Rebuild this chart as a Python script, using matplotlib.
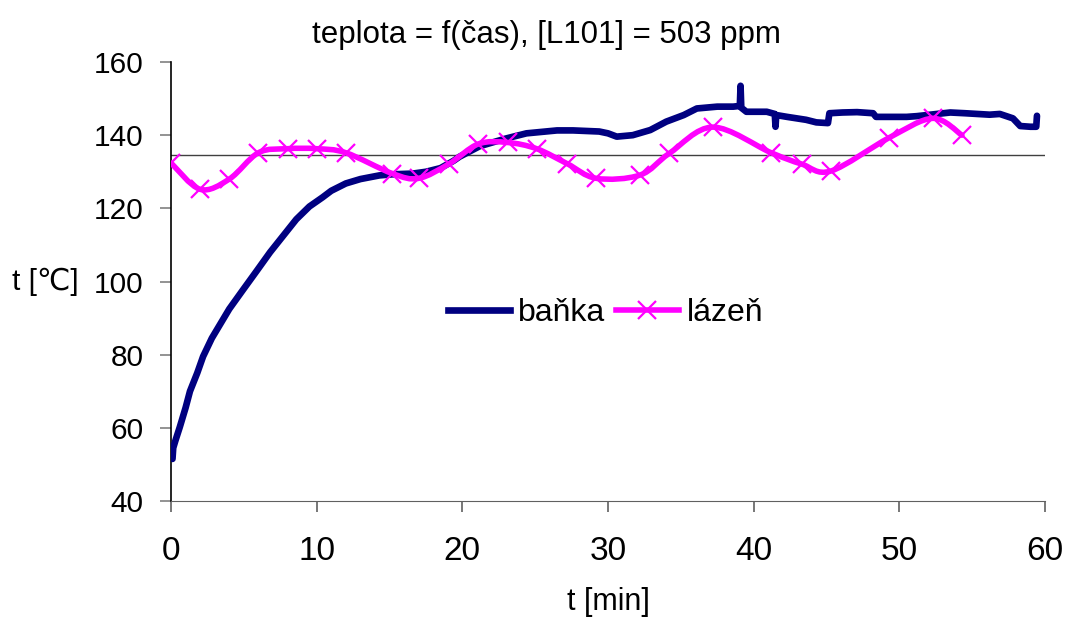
import matplotlib
matplotlib.use('Agg')
import matplotlib.pyplot as plt
from matplotlib.path import Path
from matplotlib.patches import PathPatch
from matplotlib.lines import Line2D

# banka (flask) temperature
banka_t = [0.1, 0.15, 0.3, 0.6, 1.0, 1.3, 1.8, 2.2, 2.8, 3.4, 4.0, 4.9, 5.9, 6.8, 7.7,
           8.6, 9.5, 10.4, 11.0, 12.0, 13.0, 14.3, 15.2, 16.6, 17.5, 18.5, 19.4, 19.8,
           21.2, 23.0, 24.4, 26.5, 27.6, 29.4, 30.0, 30.6, 31.7, 32.9, 34.0, 35.2, 36.1,
           37.5, 38.6, 39.05, 39.1, 39.15, 39.5, 40.9, 41.45, 41.5, 41.55, 42.3, 43.6,
           44.3, 45.1, 45.2, 46.1, 47.1, 48.2, 48.4, 50.5, 51.2, 53.5, 54.5, 56.2, 56.9,
           57.8, 58.3, 59.0, 59.4, 59.45]
banka_T = [51.5, 54.5, 56.5, 60.2, 65.5, 70.0, 75.0, 79.5, 84.5, 88.5, 92.5, 97.5, 103.0,
           108.0, 112.5, 117.0, 120.5, 123.0, 124.8, 126.8, 128.0, 129.0, 129.3, 129.5,
           130.0, 131.0, 133.0, 134.1, 137.0, 139.1, 140.5, 141.3, 141.3, 141.0, 140.5,
           139.6, 140.0, 141.4, 143.7, 145.5, 147.3, 147.8, 147.8, 148.0, 153.5, 147.5,
           146.4, 146.4, 145.8, 142.3, 145.5, 145.0, 144.2, 143.5, 143.3, 146.0, 146.2,
           146.3, 146.0, 145.0, 145.0, 145.2, 146.2, 146.0, 145.6, 145.8, 144.6, 142.5,
           142.3, 142.3, 145.3]

# lazen (bath) temperature
lazen_t = [0, 2, 4, 6, 8, 10, 12, 15.2, 17, 19.1, 21.1, 23.1, 25.1, 27.2, 29.2,
           32.2, 34.2, 37.2, 41.2, 43.3, 45.3, 49.3, 52.3, 54.3]
lazen_T = [132.4, 125.2, 128.0, 135.2, 136.3, 136.3, 135.2, 129.5, 128.2, 132.2,
           137.6, 138.0, 136.3, 132.2, 128.2, 129.1, 135.0, 142.2, 135.2, 132.1,
           130.2, 139.3, 144.6, 140.0]

ref_T = 134.5

navy = '#000080'
pink = '#FF00FF'

fig = plt.figure(figsize=(10.71, 6.17), dpi=100)
ax = fig.add_axes([0.1597, 0.188, 0.816, 0.7115])

ax.axhline(ref_T, color='#404040', lw=1.0, zorder=1)

ax.plot(banka_t, banka_T, color=navy, lw=4.8, solid_capstyle='round',
        solid_joinstyle='round', zorder=3)

# smoothed line like the spreadsheet one (Catmull-Rom as bezier pieces)
pts = list(zip(lazen_t, lazen_T))
verts = [pts[0]]
codes = [Path.MOVETO]
for i in range(len(pts) - 1):
    p0 = pts[i - 1] if i > 0 else pts[i]
    p1 = pts[i]
    p2 = pts[i + 1]
    p3 = pts[i + 2] if i + 2 < len(pts) else pts[i + 1]
    c1 = (p1[0] + (p2[0] - p0[0]) / 6, p1[1] + (p2[1] - p0[1]) / 6)
    c2 = (p2[0] - (p3[0] - p1[0]) / 6, p2[1] - (p3[1] - p1[1]) / 6)
    verts += [c1, c2, p2]
    codes += [Path.CURVE4] * 3
ax.add_patch(PathPatch(Path(verts, codes), facecolor='none', edgecolor=pink,
                       lw=4, capstyle='round', joinstyle='round', zorder=4))
ax.plot(lazen_t, lazen_T, ls='none', marker='x', ms=13, mew=1.6, color=pink, zorder=5)

ax.set_xlim(0, 60)
ax.set_ylim(40, 160)
ax.set_xticks(range(0, 61, 10))
ax.set_yticks(range(40, 161, 20))
ax.spines['top'].set_visible(False)
ax.spines['right'].set_visible(False)
ax.spines['left'].set_linewidth(1.2)
ax.spines['bottom'].set_color('#606060')

ax.tick_params(axis='y', length=8, width=1.2, color='#808080', pad=12,
               labelsize=21.5, labelfontfamily='Liberation Sans')
ax.tick_params(axis='x', length=8, width=1.2, color='#606060', pad=17,
               labelsize=24, labelfontfamily='Liberation Sans')

ax.set_title('teplota = f(čas), [L101] = 503 ppm', fontsize=22.5,
             family='Liberation Sans', pad=14, x=0.43)
ax.set_xlabel('t [min]', fontsize=22, family='Liberation Sans')
ax.xaxis.set_label_coords(0.5, -0.196)
ax.set_ylabel('t [℃]', fontsize=21.5, family=['Liberation Sans', 'DejaVu Sans'],
              rotation=0, ha='center', va='center')
ax.yaxis.set_label_coords(-0.144, 0.50)

handles = [Line2D([], [], color=navy, lw=4.8),
           Line2D([], [], color=pink, lw=4, marker='x', ms=13, mew=1.6)]
ax.legend(handles, ['baňka', 'lázeň'], loc='center', bbox_to_anchor=(0.497, 0.428),
          ncol=2, frameon=False, prop={'family': 'Liberation Sans', 'size': 23},
          handlelength=1.95, handletextpad=0.25, columnspacing=0.35)

fig.savefig('out.png', dpi=100)
